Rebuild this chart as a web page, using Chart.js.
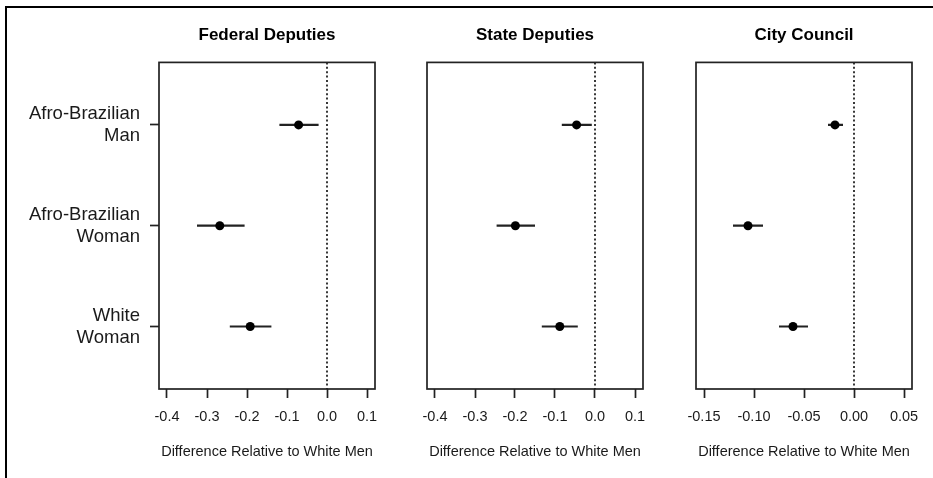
<!DOCTYPE HTML>
<html>

<head>
    <title>Difference Relative to White Men</title>
    <meta charset="utf-8" />
    <script src="https://cdn.jsdelivr.net/npm/chart.js@4.4.1/dist/chart.umd.min.js"></script>
    <style>
        body { margin: 0; background: #fff; }
        #figure { position: relative; width: 933px; height: 478px; overflow: hidden; }
        #frame {
            position: absolute; left: 5px; top: 6px; right: 0; bottom: 0;
            border-top: 2px solid #000; border-left: 2px solid #000;
        }
        canvas { position: absolute; top: 0; }
    </style>
</head>

<body>
    <div id="figure">
        <div id="frame"></div>
        <canvas id="federalChart" width="395" height="478" style="left: 0px;"></canvas>
        <canvas id="stateChart" width="256" height="478" style="left: 407px;"></canvas>
        <canvas id="cityChart" width="256" height="478" style="left: 676px;"></canvas>
    </div>

    <script>
        // Groups (top to bottom) and where they sit on the vertical axis
        const groupLabels = [['Afro-Brazilian', 'Man'], ['Afro-Brazilian', 'Woman'], ['White', 'Woman']];
        const groupPos = [1, 2, 3];

        // Federal Deputies: estimate and interval ends
        const federalEst = [-0.071, -0.268, -0.192];
        const federalLo = [-0.119, -0.325, -0.243];
        const federalHi = [-0.021, -0.206, -0.139];

        // State Deputies
        const stateEst = [-0.046, -0.199, -0.088];
        const stateLo = [-0.083, -0.246, -0.133];
        const stateHi = [-0.008, -0.150, -0.043];

        // City Council
        const cityEst = [-0.019, -0.106, -0.061];
        const cityLo = [-0.026, -0.121, -0.075];
        const cityHi = [-0.011, -0.091, -0.046];

        // Tick labels on the x axes
        const deputyTicks = [-0.4, -0.3, -0.2, -0.1, 0.0, 0.1];
        const cityTicks = [-0.15, -0.10, -0.05, 0.00, 0.05];

        const axisTitle = 'Difference Relative to White Men';
        const fontFamily = '"Liberation Sans", Arial, Helvetica, sans-serif';
        const ink = '#1a1a1a';

        // Frame around each plotting region
        const boxPlugin = {
            id: 'box',
            afterDraw(chart) {
                const { ctx, chartArea: a } = chart;
                ctx.save();
                ctx.strokeStyle = '#222';
                ctx.lineWidth = 1.7;
                ctx.strokeRect(a.left, a.top, a.right - a.left, a.bottom - a.top);
                ctx.restore();
            }
        };

        function makePanel(canvasId, title, est, lo, hi, xMin, xMax, xTicks, decimals, showY) {
            const yMin = 0.38, yMax = 3.62;
            const datasets = [];

            // points (first so they are drawn on top)
            datasets.push({
                type: 'scatter',
                data: est.map((v, i) => ({ x: v, y: groupPos[i] })),
                pointRadius: 4.5,
                pointBorderWidth: 0,
                backgroundColor: '#000',
                borderColor: '#000',
            });

            // interval segments
            est.forEach((v, i) => {
                datasets.push({
                    type: 'line',
                    data: [{ x: lo[i], y: groupPos[i] }, { x: hi[i], y: groupPos[i] }],
                    borderColor: '#222',
                    borderWidth: 2.2,
                    pointRadius: 0,
                    fill: false,
                });
            });

            // dotted reference line at zero
            datasets.push({
                type: 'line',
                data: [{ x: 0, y: yMin }, { x: 0, y: yMax }],
                borderColor: '#222',
                borderWidth: 1.8,
                borderDash: [2, 2.4],
                pointRadius: 0,
                fill: false,
            });

            return new Chart(document.getElementById(canvasId).getContext('2d'), {
                type: 'scatter',
                data: { datasets },
                plugins: [boxPlugin],
                options: {
                    responsive: false,
                    animation: false,
                    events: [],
                    layout: { padding: { left: showY ? 0 : 20, right: 20, top: 0, bottom: 0 } },
                    plugins: {
                        legend: { display: false },
                        tooltip: { enabled: false },
                        title: {
                            display: true,
                            text: title,
                            fullSize: false,
                            color: '#000',
                            font: { family: fontFamily, size: 17, weight: 'bold' },
                            padding: { top: 25, bottom: 17 },
                        },
                    },
                    scales: {
                        x: {
                            type: 'linear',
                            min: xMin,
                            max: xMax,
                            afterBuildTicks: s => { s.ticks = xTicks.map(v => ({ value: v })); },
                            afterFit: s => { s.height = 89; },
                            ticks: {
                                callback: v => Number(v).toFixed(decimals),
                                color: ink,
                                font: { family: fontFamily, size: 14.5 },
                                padding: 10.5,
                                maxRotation: 0,
                                autoSkip: false,
                            },
                            grid: { drawOnChartArea: false, tickLength: 9, tickWidth: 1.7, tickColor: '#222' },
                            border: { display: false },
                            title: {
                                display: true,
                                text: axisTitle,
                                color: ink,
                                font: { family: fontFamily, size: 14.5 },
                                padding: { top: 0, bottom: 17.5 },
                            },
                        },
                        y: {
                            type: 'linear',
                            display: showY,
                            min: yMin,
                            max: yMax,
                            reverse: true,
                            afterBuildTicks: s => { s.ticks = groupPos.map(v => ({ value: v })); },
                            afterFit: s => { s.width = showY ? 159 : 0; },
                            ticks: {
                                callback: (v, i) => groupLabels[i],
                                color: ink,
                                font: { family: fontFamily, size: 18.5, lineHeight: 22 / 18.5 },
                                padding: 10,
                                autoSkip: false,
                            },
                            grid: { drawOnChartArea: false, tickLength: 9, tickWidth: 1.7, tickColor: '#222' },
                            border: { display: false },
                        },
                    },
                },
            });
        }

        makePanel('federalChart', 'Federal Deputies', federalEst, federalLo, federalHi, -0.42, 0.12, deputyTicks, 1, true);
        makePanel('stateChart', 'State Deputies', stateEst, stateLo, stateHi, -0.42, 0.12, deputyTicks, 1, false);
        makePanel('cityChart', 'City Council', cityEst, cityLo, cityHi, -0.158, 0.058, cityTicks, 2, false);
    </script>
</body>

</html>
